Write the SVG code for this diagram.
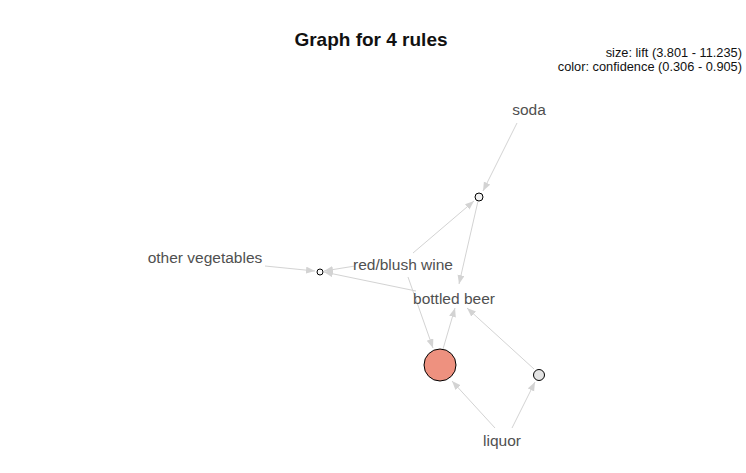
<svg xmlns="http://www.w3.org/2000/svg" width="746" height="473" viewBox="0 0 746 473">
<style>
.lbl{font-family:"Liberation Sans",Arial,sans-serif;font-size:15.5px;fill:#505050;text-anchor:middle}
.leg{font-family:"Liberation Sans",Arial,sans-serif;font-size:12.8px;fill:#111;text-anchor:end}
.title{font-family:"Liberation Sans",Arial,sans-serif;font-size:19px;font-weight:bold;fill:#111;text-anchor:middle}
.e{stroke:#D3D3D3;stroke-width:1;fill:none;marker-end:url(#ah)}
.rule{stroke:#000;stroke-width:1}
</style>
<defs>
<marker id="ah" markerUnits="userSpaceOnUse" markerWidth="10" markerHeight="8" refX="9" refY="3.5" orient="auto">
<path d="M0,0 L9,3.5 L0,7 z" fill="#D3D3D3"/>
</marker>
</defs>
<rect width="746" height="473" fill="#fff"/>
<text class="title" x="371" y="46">Graph for 4 rules</text>
<text class="leg" x="742" y="57">size: lift (3.801 - 11.235)</text>
<text class="leg" x="742" y="71">color: confidence (0.306 - 0.905)</text>
<g id="edges">
<line class="e" x1="517" y1="123" x2="483" y2="191"/>
<line class="e" x1="413" y1="253" x2="474" y2="201"/>
<line class="e" x1="478" y1="201" x2="459" y2="284"/>
<line class="e" x1="265" y1="266" x2="315" y2="271"/>
<line class="e" x1="355" y1="266" x2="324" y2="271"/>
<line class="e" x1="416" y1="291" x2="324" y2="272"/>
<line class="e" x1="408" y1="277" x2="433" y2="348"/>
<line class="e" x1="443" y1="349" x2="455" y2="308"/>
<line class="e" x1="534" y1="369" x2="467" y2="308"/>
<line class="e" x1="495" y1="428" x2="452" y2="381"/>
<line class="e" x1="512" y1="428" x2="535" y2="382"/>
</g>
<g id="soda"><text class="lbl" x="529" y="115">soda</text></g>
<g id="other_vegetables"><text class="lbl" x="205" y="263">other vegetables</text></g>
<g id="red_blush_wine"><text class="lbl" x="403" y="270">red/blush wine</text></g>
<g id="bottled_beer"><text class="lbl" x="454" y="304">bottled beer</text></g>
<g id="liquor"><text class="lbl" x="502" y="446">liquor</text></g>
<g id="rule1"><circle class="rule" cx="479" cy="197" r="4" fill="#F2F2F2"/></g>
<g id="rule2"><circle class="rule" cx="320" cy="272" r="3" fill="#FAFAFA"/></g>
<g id="rule3"><circle class="rule" cx="440" cy="365" r="16" fill="#EE917F"/></g>
<g id="rule4"><circle class="rule" cx="539" cy="375" r="5.5" fill="#E4E4E4"/></g>
</svg>
